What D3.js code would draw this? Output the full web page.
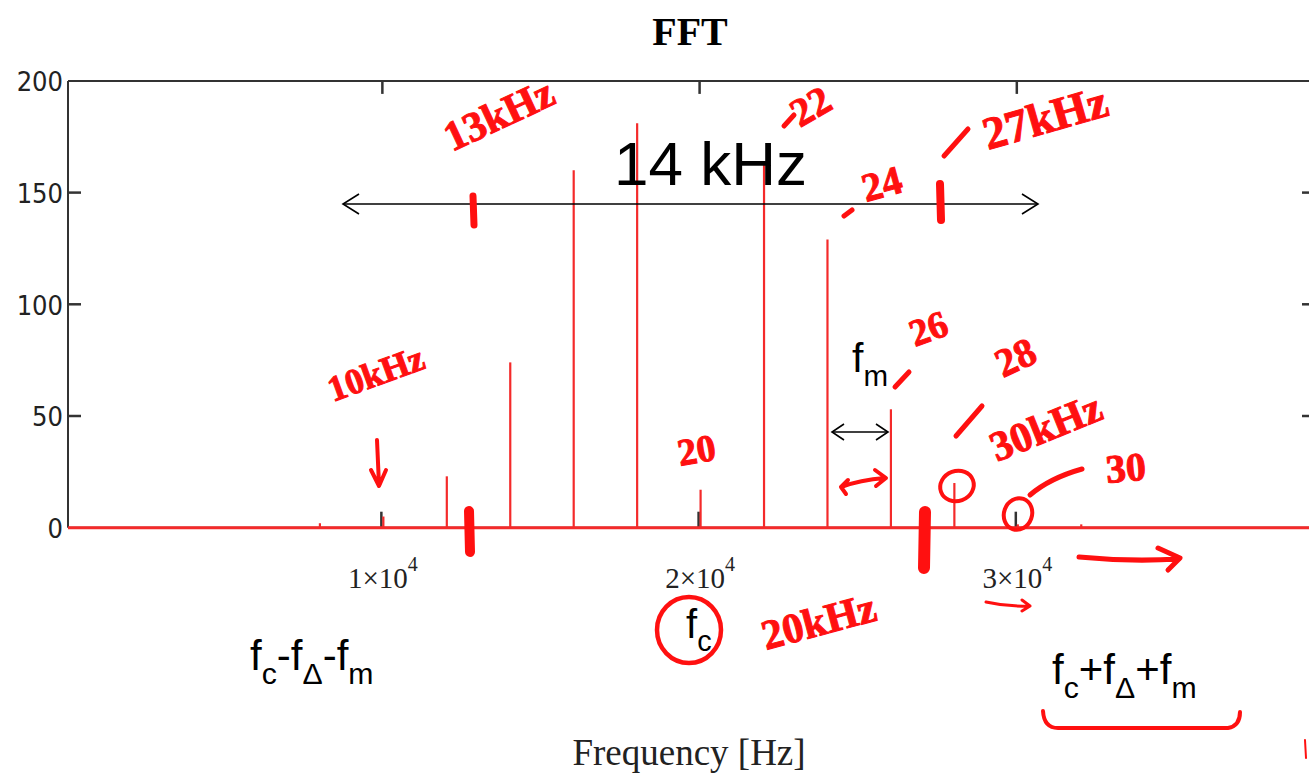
<!DOCTYPE html>
<html><head><meta charset="utf-8">
<script src="https://cdn.jsdelivr.net/npm/d3@7"></script>
<style>body{margin:0;background:#fff}svg{display:block}</style>
</head><body><svg id="c" width="1309" height="775"></svg>
<script>
// ---- data ----
const freqs  = [8000, 10000, 12000, 14000, 16000, 18000, 20000, 22000, 24000, 26000, 28000, 30000, 32000];
const mags   = [2,    5,     23,    74,    160,   181,   17,    163,   129,   53,    20,    1.5,   1.5];
const yTicks = [0, 50, 100, 150, 200];
const xTicks = [10000, 20000, 30000];
const xTickMant = ["1", "2", "3"];
const xTickExp = "4";
const title = "FFT";
const xLabel = "Frequency [Hz]";

const svg = d3.select("#c");
const L = 68, R = 1315, T = 80.9, B = 527.7;
const x = d3.scaleLinear().domain([90, 39400]).range([L, R]);
const y = d3.scaleLinear().domain([0, 200]).range([B, T]);
const frame = "#333";

// title + label
svg.append("text").attr("x", 690).attr("y", 45).attr("text-anchor", "middle")
  .attr("font-family", "Liberation Serif").attr("font-weight", "bold").attr("font-size", 40).text(title);
svg.append("text").attr("x", 689).attr("y", 765).attr("text-anchor", "middle")
  .attr("font-family", "Liberation Serif").attr("font-size", 37).attr("fill", "#222").text(xLabel);

// frame
svg.append("line").attr("x1", L).attr("x2", L).attr("y1", T).attr("y2", B).attr("stroke", frame).attr("stroke-width", 2);
svg.append("line").attr("x1", L).attr("x2", R).attr("y1", T).attr("y2", T).attr("stroke", frame).attr("stroke-width", 2);
svg.append("line").attr("x1", L).attr("x2", R).attr("y1", B).attr("y2", B).attr("stroke", frame).attr("stroke-width", 2);

// y axis (left) with inward ticks
const yAx = svg.append("g").attr("transform", `translate(${L},0)`)
  .call(d3.axisLeft(y).tickValues(yTicks).tickSize(0).tickPadding(5));
yAx.select(".domain").remove();
yAx.selectAll("text").attr("font-family", "DejaVu Sans Condensed").attr("font-size", 27).attr("fill", "#222")
  .attr("dy", "0.36em");
const innerY = yTicks.filter(d => d > 0 && d < 200);
svg.selectAll(".ytl").data(innerY).enter().append("line")
  .attr("x1", L).attr("x2", L + 13).attr("y1", d => y(d)).attr("y2", d => y(d)).attr("stroke", frame).attr("stroke-width", 2.5);
svg.selectAll(".ytr").data(innerY).enter().append("line")
  .attr("x1", R - 13).attr("x2", R).attr("y1", d => y(d)).attr("y2", d => y(d)).attr("stroke", frame).attr("stroke-width", 2.5);

// x ticks top/bottom inward
svg.selectAll(".xtt").data(xTicks).enter().append("line")
  .attr("x1", d => x(d)).attr("x2", d => x(d)).attr("y1", T).attr("y2", T + 13).attr("stroke", frame).attr("stroke-width", 2.5);
svg.selectAll(".xtb").data(xTicks).enter().append("line")
  .attr("x1", d => x(d) - 1).attr("x2", d => x(d) - 1).attr("y1", B).attr("y2", B - 16).attr("stroke", frame).attr("stroke-width", 2.5);

// x tick labels
const xAx = svg.append("g").attr("transform", `translate(0,${B})`)
  .call(d3.axisBottom(x).tickValues(xTicks).tickSize(0).tickPadding(0).tickFormat(""));
xAx.select(".domain").remove();
xAx.selectAll(".tick").each(function(d, i) {
  const t = d3.select(this).append("text").attr("y", 60).attr("text-anchor", "middle")
    .attr("font-family", "Liberation Serif").attr("font-size", 29).attr("fill", "#222");
  t.append("tspan").text(xTickMant[i] + "×10");
  t.append("tspan").attr("dy", -17).attr("font-size", 20).text(xTickExp);
});

// trace
const red = "#f42a2a";
svg.append("line").attr("x1", L).attr("x2", R).attr("y1", B).attr("y2", B).attr("stroke", red).attr("stroke-width", 3);
svg.selectAll(".stem").data(freqs).enter().append("line")
  .attr("x1", d => x(d) + 1).attr("x2", d => x(d) + 1)
  .attr("y1", B).attr("y2", (d, i) => y(mags[i]))
  .attr("stroke", red).attr("stroke-width", 2.2);

// ---- annotations: black ----
function dblArrow(x1, x2, yy, w, h) {
  svg.append("line").attr("x1", x1).attr("x2", x2).attr("y1", yy).attr("y2", yy).attr("stroke", "#000").attr("stroke-width", 1.6);
  svg.append("path").attr("d", `M${x1 + w},${yy - h}L${x1},${yy}L${x1 + w},${yy + h}M${x2 - w},${yy - h}L${x2},${yy}L${x2 - w},${yy + h}`)
    .attr("fill", "none").attr("stroke", "#000").attr("stroke-width", 1.6);
}
dblArrow(343, 1038, 204, 16, 10);
dblArrow(832, 888, 432, 12, 8);
svg.append("text").attr("x", 614).attr("y", 185).attr("font-family", "Liberation Sans").attr("font-size", 62).text("14 kHz");

function sub(xx, yy, parts, fs) {
  const t = svg.append("text").attr("x", xx).attr("y", yy).attr("font-family", "Liberation Sans").attr("font-size", fs);
  let lvl = 0;
  parts.forEach(p => {
    const s = p[1];
    const dy = s === lvl ? 0 : (s ? fs * 0.33 : -fs * 0.33);
    t.append("tspan").attr("dy", dy).attr("font-size", s ? fs * 0.72 : fs).text(p[0]);
    lvl = s;
  });
}
sub(852, 372, [["f", 0], ["m", 1]], 41);
sub(250, 670, [["f", 0], ["c", 1], ["-f", 0], ["Δ", 1], ["-f", 0], ["m", 1]], 42);
sub(1052, 684, [["f", 0], ["c", 1], ["+f", 0], ["Δ", 1], ["+f", 0], ["m", 1]], 42);
sub(686, 638, [["f", 0], ["c", 1]], 40);

// ---- annotations: red handwriting ----
const ink = "#ff1010";
function hw(txt, xx, yy, fs, rot) {
  svg.append("text").attr("transform", `translate(${xx},${yy}) rotate(${rot})`)
    .attr("font-family", "Liberation Sans Narrow").attr("font-weight", "bold").attr("font-size", fs)
    .attr("fill", ink).attr("stroke", ink).attr("stroke-width", 1).text(txt);
}
function stroke(d, w) {
  svg.append("path").attr("d", d).attr("fill", "none").attr("stroke", ink).attr("stroke-width", w)
    .attr("stroke-linecap", "round").attr("stroke-linejoin", "round");
}
hw("13kHz", 452, 152, 42, -25);
hw("22", 800, 128, 40, -30); stroke("M784,126L794,115", 5);
hw("24", 866, 202, 40, -15); stroke("M844,216L852,210", 5);
hw("27kHz", 988, 150, 46, -16); stroke("M944,156L968,129", 5);
hw("10kHz", 333, 402, 36, -20);
hw("20", 680, 466, 38, -10);
hw("26", 915, 347, 38, -20); stroke("M895,387L909,372", 5);
hw("28", 1003, 378, 40, -25); stroke("M956,436L982,406", 5);
hw("30kHz", 997, 462, 42, -22);
hw("30", 1107, 483, 40, -5);
hw("20kHz", 766, 650, 42, -15);

stroke("M473,196L474,225", 7);
stroke("M940,184L941,220", 8);
stroke("M469,511L470,552", 10);
stroke("M925,512L924,568", 12);
stroke("M377,440L379,485M371,470L379,486L386,470", 4);
stroke("M841,487Q860,480 885,478M875,470L886,478L876,486M848,480L841,487L846,494", 4);
svg.append("ellipse").attr("cx", 957).attr("cy", 486).attr("rx", 17).attr("ry", 15)
  .attr("fill", "none").attr("stroke", ink).attr("stroke-width", 4).attr("transform", "rotate(-20,957,486)");
svg.append("ellipse").attr("cx", 1018).attr("cy", 514).attr("rx", 14).attr("ry", 16)
  .attr("fill", "none").attr("stroke", ink).attr("stroke-width", 4).attr("transform", "rotate(20,1018,514)");
stroke("M1030,495Q1050,478 1082,469", 5);
stroke("M1079,557Q1130,562 1179,559M1158,548L1180,558L1168,570", 5);
stroke("M986,602Q1008,607 1030,606M1022,600L1030,606L1022,611", 3);
svg.append("ellipse").attr("cx", 689).attr("cy", 630).attr("rx", 32).attr("ry", 33)
  .attr("fill", "none").attr("stroke", ink).attr("stroke-width", 4.5);
stroke("M1043,711Q1044,728 1058,728L1228,728Q1240,726 1240,712", 4);
stroke("M1305,740L1306,758", 2);
</script></body></html>
